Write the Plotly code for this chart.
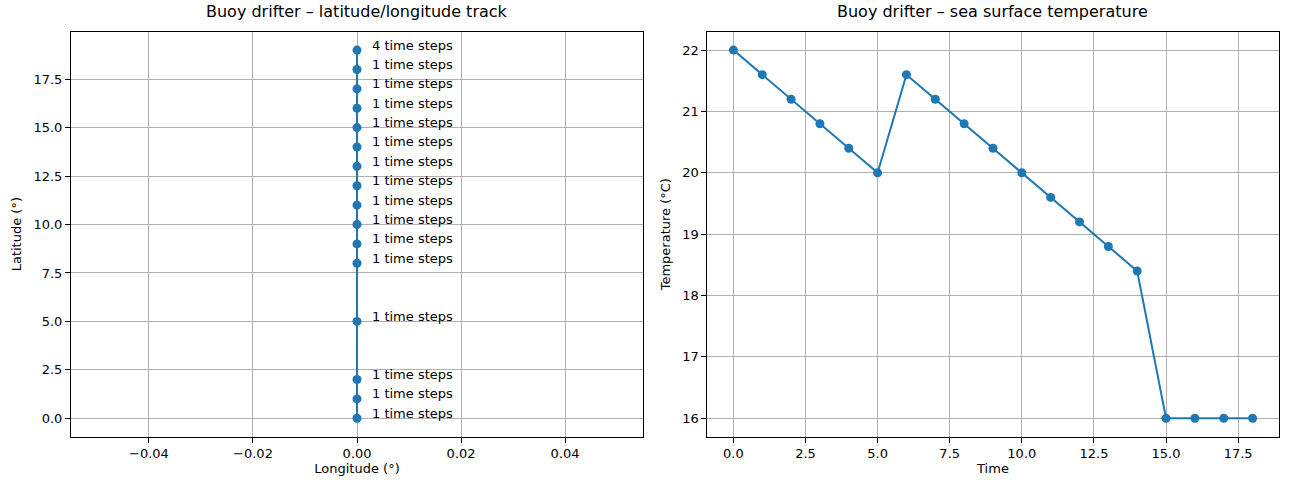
import plotly.graph_objects as go

# Data
lon = [0, 0, 0, 0, 0, 0, 0, 0, 0, 0, 0, 0, 0, 0, 0, 0]
lat = [0, 1, 2, 5, 8, 9, 10, 11, 12, 13, 14, 15, 16, 17, 18, 19]
step_counts = [1, 1, 1, 1, 1, 1, 1, 1, 1, 1, 1, 1, 1, 1, 1, 4]
time = list(range(19))
temp = [22.0, 21.6, 21.2, 20.8, 20.4, 20.0, 21.6, 21.2, 20.8, 20.4, 20.0,
        19.6, 19.2, 18.8, 18.4, 16.0, 16.0, 16.0, 16.0]

BLUE = "#1f77b4"
FONT = "DejaVu Sans"

fig = go.Figure()
fig.add_trace(go.Scatter(x=lon, y=lat, mode="lines+markers",
                         line=dict(color=BLUE, width=2),
                         marker=dict(color=BLUE, size=9),
                         xaxis="x", yaxis="y", showlegend=False))
fig.add_trace(go.Scatter(x=time, y=temp, mode="lines+markers",
                         line=dict(color=BLUE, width=2),
                         marker=dict(color=BLUE, size=9),
                         xaxis="x2", yaxis="y2", showlegend=False))

annotations = []
for x, y, n in zip(lon, lat, step_counts):
    annotations.append(dict(x=x, y=y, xref="x", yref="y", text=f"{n} time steps",
                            showarrow=False, xanchor="left", yanchor="middle",
                            xshift=13, yshift=5,
                            font=dict(family=FONT, size=13, color="black")))

annotations += [
    dict(text="Buoy drifter – latitude/longitude track", x=(0.055 + 0.4985) / 2, y=1 - 12 / 490,
         xref="paper", yref="paper", showarrow=False, xanchor="center", yanchor="middle",
         font=dict(family=FONT, size=16, color="black")),
    dict(text="Buoy drifter – sea surface temperature", x=(0.5484 + 0.9911) / 2, y=1 - 12 / 490,
         xref="paper", yref="paper", showarrow=False, xanchor="center", yanchor="middle",
         font=dict(family=FONT, size=16, color="black")),
]

axis_common = dict(showline=True, linecolor="black", linewidth=1, mirror=True,
                   showgrid=True, gridcolor="#b0b0b0", gridwidth=1,
                   ticks="outside", ticklen=5, tickcolor="black", tickwidth=1,
                   zeroline=False,
                   tickfont=dict(family=FONT, size=13, color="black"))

fig.update_layout(
    width=1290, height=490,
    margin=dict(l=0, r=0, t=0, b=0),
    plot_bgcolor="white", paper_bgcolor="white",
    font=dict(family=FONT, size=13, color="black"),
    xaxis=dict(domain=[0.055, 0.4985], range=[-0.055, 0.055], anchor="y",
               tickvals=[-0.04, -0.02, 0.0, 0.02, 0.04], tickformat=".2f",
               title=dict(text="Longitude (°)", font=dict(family=FONT, size=13), standoff=2),
               **axis_common),
    yaxis=dict(domain=[0.1088, 0.9353], range=[-0.95, 19.95], anchor="x",
               tickvals=[0, 2.5, 5, 7.5, 10, 12.5, 15, 17.5], tickformat=".1f",
               title=dict(text="Latitude (°)", font=dict(family=FONT, size=13), standoff=8),
               **axis_common),
    xaxis2=dict(domain=[0.5484, 0.9911], range=[-0.9, 18.9], anchor="y2",
                tickvals=[0, 2.5, 5, 7.5, 10, 12.5, 15, 17.5], tickformat=".1f",
                title=dict(text="Time", font=dict(family=FONT, size=13), standoff=2),
                **axis_common),
    yaxis2=dict(domain=[0.1088, 0.9353], range=[15.7, 22.3], anchor="x2",
                tickvals=[16, 17, 18, 19, 20, 21, 22], tickformat="d",
                title=dict(text="Temperature (°C)", font=dict(family=FONT, size=13), standoff=8),
                **axis_common),
    annotations=annotations,
)

fig.write_html("out.html")
